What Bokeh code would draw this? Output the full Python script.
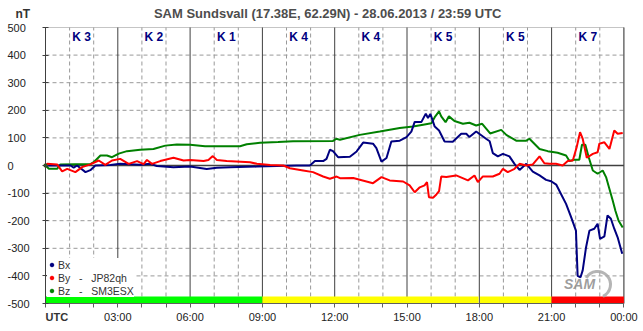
from bokeh.plotting import figure
from bokeh.models import FixedTicker, ColumnDataSource, Legend, LegendItem, BoxAnnotation
from bokeh.core.properties import value
from bokeh.embed import file_html
from bokeh.resources import INLINE
import math

# ---------------- data (hours UTC, nT) ----------------
bx_t = [0, 0.48, 1.04, 1.17, 1.31, 1.66, 1.86, 2.07, 2.69, 3.1, 3.93, 4.35, 4.62, 5.31, 6.0,
        6.69, 7.11, 7.66, 8.77, 10.0, 10.42, 10.97, 11.18, 11.52, 11.66, 11.8, 11.93, 12.14,
        12.63, 12.91, 13.18, 13.59, 13.73, 13.94, 14.15, 14.35, 14.7, 14.98, 15.18, 15.32,
        15.6, 15.78, 15.87, 15.97, 16.15, 16.33, 16.56, 16.9, 17.25, 17.46, 17.59, 17.87,
        18.28, 18.43, 18.56, 18.77, 18.98, 19.25, 19.46, 19.67, 19.95, 20.22, 20.5, 20.77,
        20.98, 21.19, 21.39, 21.6, 21.81, 22.01, 22.08, 22.2, 22.29, 22.43, 22.57, 22.77,
        22.91, 23.01, 23.19, 23.32, 23.46, 23.6, 23.74, 23.93]
bx_v = [0, 0, 0, -8, 0, -24, -17, 0, 2, 6, 3, 6, -2, -6, -4,
        -13, -8, -6, -4, -1, 0, 0, 16, 16, 24, 57, 52, 30,
        32, 51, 83, 79, 63, 14, 27, 87, 90, 103, 123, 158,
        158, 188, 172, 187, 141, 127, 87, 86, 115, 115, 103, 123,
        97, 88, 45, 33, 42, 33, 6, -16, 6, -22, -36, -52,
        -57, -69, -103, -139, -187, -236, -400, -405, -380, -296, -236, -229,
        -211, -266, -257, -181, -193, -229, -260, -320]

by_t = [0, 0.07, 0.48, 0.69, 0.9, 1.24, 1.52, 1.86, 2.21, 2.48, 2.76, 3.1, 3.45, 3.8, 4.07,
        4.21, 4.42, 4.76, 5.31, 5.73, 6.0, 6.56, 6.76, 6.94, 7.11, 7.52, 8.49, 8.77, 9.32,
        9.87, 10.14, 10.69, 11.1, 11.52, 11.8, 12.08, 12.22, 12.77, 13.59, 13.94, 14.28,
        14.84, 15.11, 15.32, 15.53, 15.73, 15.83, 15.91, 16.08, 16.22, 16.33, 16.42, 16.63,
        17.04, 17.53, 17.8, 17.94, 18.14, 18.56, 18.84, 18.98, 19.18, 19.46, 19.67, 19.95,
        20.22, 20.5, 20.7, 20.91, 21.18, 21.46, 21.67, 21.88, 22.04, 22.18, 22.29, 22.46,
        22.71, 22.91, 22.98, 23.19, 23.4, 23.6, 23.74, 23.95]
by_v = [0, 6, 4, -21, -12, -24, -6, 4, 18, 2, 18, 24, 6, 16, 5,
        20, 6, 16, 28, 18, 20, 16, 20, 34, 20, 16, 12, 6, 2,
        0, -10, -18, -24, -40, -48, -40, -46, -45, -64, -42, -54,
        -58, -72, -97, -79, -72, -60, -115, -117, -105, -93, -40, -42,
        -36, -54, -36, -60, -40, -40, -30, -12, -24, -12, 6, 0,
        4, 33, 8, 6, 6, 0, 16, 18, 66, 121, 97, 28,
        42, 48, 79, 84, 60, 127, 115, 118]

bz_t = [0, 0.14, 0.48, 0.62, 1.86, 2.0, 2.28, 2.55, 2.76, 3.04, 3.38, 3.93, 4.48, 4.97, 5.45,
        6.0, 6.62, 8.07, 8.35, 8.9, 9.65, 10.27, 11.93, 12.07, 12.22, 13.04, 13.87, 14.7,
        15.25, 15.67, 16.01, 16.15, 16.33, 16.42, 16.6, 16.74, 16.97, 17.32, 17.59, 17.87,
        18.12, 18.45, 18.91, 19.12, 19.53, 19.95, 20.08, 20.5, 20.84, 21.25, 21.6, 21.74,
        21.94, 22.15, 22.26, 22.4, 22.54, 22.71, 22.91, 23.12, 23.26, 23.4, 23.53, 23.65,
        23.78, 23.95]
bz_v = [0, -12, -12, 4, 5, 12, 36, 36, 30, 43, 52, 57, 60, 72, 76,
        75, 70, 70, 77, 82, 85, 88, 89, 97, 93, 111, 123, 136,
        141, 148, 153, 175, 196, 178, 157, 178, 161, 151, 155, 145,
        151, 116, 129, 111, 90, 90, 97, 60, 52, 46, 36, 16,
        21, 21, 75, 75, 30, -18, -30, -18, -42, -85, -125, -165,
        -200, -225]

assert len(bx_t) == len(bx_v) and len(by_t) == len(by_v) and len(bz_t) == len(bz_v)

hour_ticks = [0, 3, 6, 9, 12, 15, 18, 21, 24]
hour_minor = [1, 2, 4, 5, 7, 8, 10, 11, 13, 14, 16, 17, 19, 20, 22, 23]
hour_labels = ["UTC", "03:00", "06:00", "09:00", "12:00", "15:00", "18:00", "21:00", "00:00"]
y_ticks = [500, 400, 300, 200, 100, 0, -100, -200, -300, -400, -500]
y_dashed = [400, 300, 200, 100, -100, -200, -300, -400]

k_centers = [1.5, 4.5, 7.5, 10.5, 13.5, 16.5, 19.5, 22.5]
k_values = ["K 3", "K 2", "K 1", "K 4", "K 4", "K 5", "K 5", "K 7"]

band_start = [0, 9, 18.03, 21]
band_end = [9, 17.97, 21, 24]
band_color = ["#00ff00", "#ffff00", "#ffff00", "#ff0000"]

title_text = "SAM Sundsvall (17.38E, 62.29N) - 28.06.2013 / 23:59  UTC"
unit_text = "nT"
series_names = ["Bx", "By   -   JP82qh", "Bz   -   SM3ESX"]
series_colors = ["#000080", "#ff0000", "#008000"]

FONT = "Liberation Sans"
X0, Y0 = 0, -500          # plot box
XMAX, YMAX = 24, 500

# frame covers the whole canvas: 24.1 px per hour, 0.276 px per nT
W, H = 643, 331
PX_H, PX_NT = 24.1, 0.276
LEFT_PX, ZERO_PX = 45, 165
x_range = (-LEFT_PX / PX_H, (W - LEFT_PX) / PX_H)
y_range = ((ZERO_PX - H) / PX_NT, ZERO_PX / PX_NT)


def hx(px):
    return (px - LEFT_PX) / PX_H


def vy(py):
    return (ZERO_PX - py) / PX_NT


p = figure(width=W, height=H, x_range=x_range, y_range=y_range,
           output_backend="svg", toolbar_location=None, min_border=0)
p.outline_line_color = None
p.background_fill_color = "white"
p.border_fill_color = "white"
p.grid.visible = False

# axes pinned to the plot box
xt = FixedTicker(ticks=hour_ticks, minor_ticks=hour_minor)
p.xaxis.ticker = xt
p.xaxis.fixed_location = Y0
p.xaxis.bounds = (X0, XMAX)
overrides = {t: lab for t, lab in zip(hour_ticks, hour_labels)}
overrides[0] = " "
p.xaxis.major_label_overrides = overrides
p.xaxis.major_label_text_font = FONT
p.xaxis.major_label_text_font_size = "11px"
p.xaxis.major_label_text_color = "#222222"
p.xaxis.major_label_standoff = 3
p.xaxis.major_tick_out = 4
p.xaxis.major_tick_in = 0
p.xaxis.minor_tick_out = 4
p.xaxis.minor_tick_in = 0
p.xaxis.axis_line_color = "#606060"
p.xaxis.major_tick_line_color = "#606060"
p.xaxis.minor_tick_line_color = "#606060"

yt = FixedTicker(ticks=y_ticks, minor_ticks=[])
p.yaxis.ticker = yt
p.yaxis.fixed_location = X0
p.yaxis.bounds = (Y0, YMAX)
p.yaxis.major_label_overrides = {v: " " for v in y_ticks}
p.yaxis.major_tick_out = 3
p.yaxis.major_tick_in = 3
p.yaxis.minor_tick_line_color = None
p.yaxis.axis_line_color = "#404040"
p.yaxis.major_tick_line_color = "#404040"

# grid lines
p.segment(x0=hour_minor, y0=Y0, x1=hour_minor, y1=YMAX, line_color="#999999",
          line_width=1, line_dash="4 3")
p.segment(x0=X0, y0=y_dashed, x1=XMAX, y1=y_dashed, line_color="#999999",
          line_width=1, line_dash="4 3")
p.segment(x0=hour_ticks, y0=Y0, x1=hour_ticks, y1=YMAX, line_color="#404040", line_width=1)
p.segment(x0=X0, y0=[0], x1=XMAX, y1=[0], line_color="#404040", line_width=1.3)
p.add_layout(BoxAnnotation(left=X0, right=XMAX, bottom=Y0, top=YMAX, fill_alpha=0,
                           line_color="#404040", line_width=1, level="underlay"))

# status band
p.quad(left=band_start, right=band_end, bottom=Y0, top=-475, color=band_color, line_color=None)

# logo (SAM, bottom right)
p.arc(x=[hx(597)], y=[vy(284)], radius=13, radius_units="screen",
      start_angle=math.radians(-65), end_angle=math.radians(150),
      line_color="#a8a8a8", line_width=3, line_alpha=0.85)
p.text(x=[hx(579)], y=[vy(283)], text=["SAM"], text_font=value(FONT), text_font_size="14px",
       text_font_style="bold italic", text_color="#8c8c8c", text_alpha=0.85,
       text_align="center", text_baseline="middle")

# data lines
p.line(bz_t, bz_v, line_color=series_colors[2], line_width=2)
p.line(bx_t, bx_v, line_color=series_colors[0], line_width=2)
p.line(by_t, by_v, line_color=series_colors[1], line_width=2)

# K indices
ksrc = ColumnDataSource(dict(x=k_centers, y=[467] * len(k_centers), t=k_values))
p.text(x="x", y="y", text="t", source=ksrc, text_font=value(FONT), text_font_size="12px",
       text_font_style="bold", text_color="#000080", text_align="center", text_baseline="middle")

# y tick labels, left aligned as in the reference
ysrc = ColumnDataSource(dict(x=[hx(7)] * len(y_ticks), y=y_ticks, t=[str(v) for v in y_ticks]))
p.text(x="x", y="y", text="t", source=ysrc, text_font=value(FONT), text_font_size="11px",
       text_color="#222222", text_align="left", text_baseline="middle")

# other texts
p.text(x=[X0], y=[vy(316)], text=["UTC"], text_font=value(FONT),
       text_font_size="11px", text_font_style="bold", text_color="#333333",
       text_align="left", text_baseline="middle")
p.text(x=[hx(15)], y=[vy(13)], text=[unit_text], text_font=value(FONT),
       text_font_size="12px", text_font_style="bold", text_color="#333333",
       text_align="left", text_baseline="middle")
p.text(x=[hx(329)], y=[vy(13)], text=[title_text],
       text_font=value(FONT), text_font_size="13px", text_font_style="bold",
       text_color="#4d4d4d", text_align="center", text_baseline="middle")

# legend with dot glyphs (one origin point per series, hidden under the lines)
dots = [p.scatter(x=t[:1], y=v[:1], marker="circle", size=3, color=c)
        for t, v, c in zip([bx_t, by_t, bz_t], [bx_v, by_v, bz_v], series_colors)]
legend = Legend(items=[LegendItem(label=n, renderers=[d]) for n, d in zip(series_names, dots)],
                location=(47, 34), orientation="vertical",
                border_line_color=None, background_fill_color="white", background_fill_alpha=1.0,
                label_text_font=FONT, label_text_font_size="10.5px", label_text_color="#333333",
                glyph_width=9, glyph_height=13, label_height=13, label_standoff=2,
                spacing=0, padding=0, margin=0)
p.add_layout(legend)

open("out.html", "w").write(file_html(p, INLINE))
